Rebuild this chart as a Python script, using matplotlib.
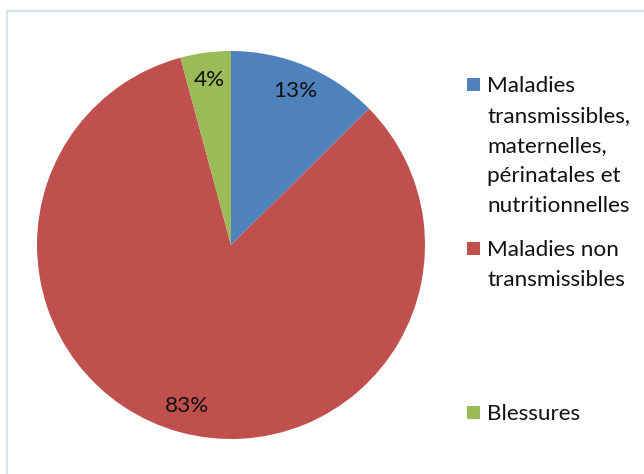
import matplotlib
matplotlib.use("Agg")
import matplotlib.pyplot as plt
from matplotlib.patches import Rectangle

categories = [
    "Maladies\ntransmissibles,\nmaternelles,\npérinatales et\nnutritionnelles",
    "Maladies non\ntransmissibles",
    "Blessures",
]
values = [12.6, 83.2, 4.2]
colors = ["#4F81BD", "#C0504D", "#9BBB59"]

W, H = 644, 474
FONT = "Lato"
FS = 16.2

fig = plt.figure(figsize=(W / 100, H / 100), dpi=100)
fig.patch.set_facecolor("white")

def fx(x):
    return x / W

def fy(y):
    return 1 - y / H

# chart border
fig.patches.append(Rectangle((fx(7), fy(H + 5)), fx(W + 10), fy(11) - fy(H + 5),
                             transform=fig.transFigure, fill=False,
                             edgecolor="#D9E1EC", linewidth=1.5))

# pie
cx, cy, r = 231, 245, 194
ax = fig.add_axes([fx(cx - r), fy(cy + r), 2 * r / W, 2 * r / H])
wedges, texts, autotexts = ax.pie(values, colors=colors, startangle=90, counterclock=False,
                                  autopct="%.0f%%", pctdistance=0.86, radius=1,
                                  wedgeprops=dict(linewidth=0))
for t in autotexts:
    t.set_fontfamily(FONT)
    t.set_fontsize(FS)
    t.set_color("#111111")
ax.set_xlim(-1, 1)
ax.set_ylim(-1, 1)
ax.set_axis_off()

# legend (manual, Excel-like layout)
first_baselines = [92, 256, 420]
line_gap = 30
for label, col, by in zip(categories, colors, first_baselines):
    fig.patches.append(Rectangle((fx(466.5), fy(by - 1)), 13.5 / W, 13 / H,
                                 transform=fig.transFigure, facecolor=col, edgecolor="none"))
    for i, line in enumerate(label.split("\n")):
        fig.text(fx(487), fy(by + i * line_gap), line, fontfamily=FONT, fontsize=FS,
                 va="baseline", ha="left", color="#111111")

fig.savefig("out.png", dpi=100, facecolor="white")
